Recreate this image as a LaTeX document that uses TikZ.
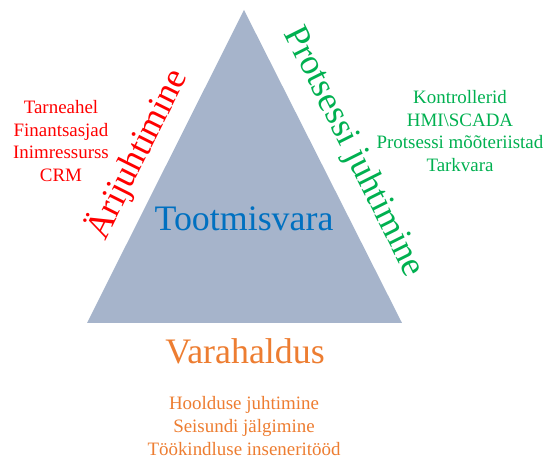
\documentclass[tikz,border=0pt]{standalone}
\usepackage{fontspec}
\setmainfont{Liberation Serif}
\usepackage{xcolor}
\usetikzlibrary{positioning}
\definecolor{bizred}{RGB}{255,0,0}
\definecolor{processgreen}{RGB}{0,176,80}
\definecolor{assetorange}{RGB}{237,125,49}
\definecolor{coreblue}{RGB}{0,112,192}
\definecolor{coregray}{RGB}{166,180,203}

\begin{document}
\begin{tikzpicture}[x=1bp, y=1bp,
    heading/.style={font=\fontsize{36}{40}\selectfont, inner sep=0pt},
    itemlist/.style={font=\fontsize{19}{23}\selectfont, align=center, inner sep=0pt}]
    \useasboundingbox (0,0) rectangle (548,460);

    % Triangle
    \coordinate (apex) at (244,450);
    \coordinate (baseL) at (87,137);
    \coordinate (baseR) at (402,137);
    \fill[coregray] (apex) -- (baseL) -- (baseR) -- cycle;
    \node[heading, coreblue, anchor=base] (core) at (244,229) {Tootmisvara};

    % Left side: business
    \node[heading, bizred, rotate=63.4] (biz) at (137,306) {Ärijuhtimine};
    \node[itemlist, bizred] (bizlist) at (61,319) {Tarneahel\\Finantsasjad\\Inimressurss\\CRM};

    % Right side: process
    \node[heading, processgreen, rotate=-63.4] (proc) at (353,308) {Protsessi juhtimine};
    \node[itemlist, processgreen] (proclist) at (460,329) {Kontrollerid\\HMI\textbackslash SCADA\\Protsessi mõõteriistad\\Tarkvara};

    % Bottom: assets
    \node[heading, assetorange, anchor=base] (asset) at (245,96) {Varahaldus};
    \node[itemlist, assetorange] (assetlist) at (244,34) {Hoolduse juhtimine\\Seisundi jälgimine\\Töökindluse inseneritööd};
\end{tikzpicture}
\end{document}
